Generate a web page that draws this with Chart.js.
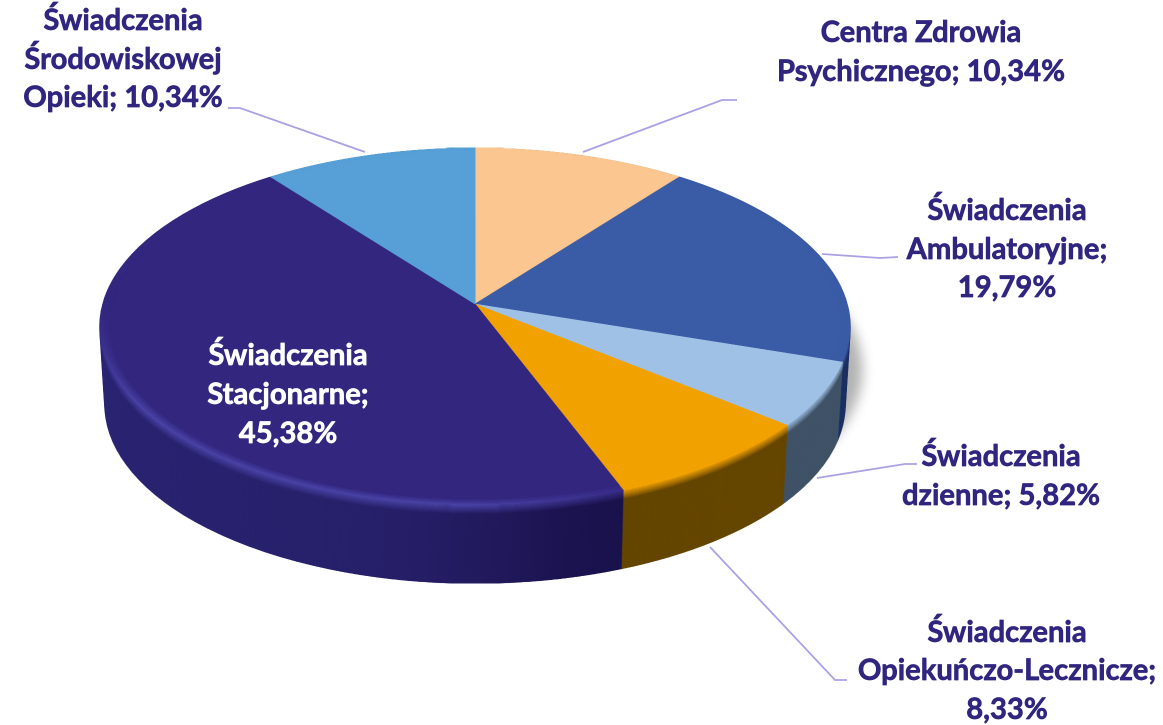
<!DOCTYPE html>
<html lang="pl">
<head>
<meta charset="utf-8">
<style>html,body{margin:0;padding:0;background:#fff}canvas{display:block}</style>
<script src="https://cdn.jsdelivr.net/npm/chart.js@4/dist/chart.umd.min.js"></script>
</head>
<body>
<canvas id="c" width="1163" height="725" style="width:1163px;height:725px"></canvas>
<script>
const categories = ["Centra Zdrowia Psychicznego","Świadczenia Ambulatoryjne","Świadczenia dzienne","Świadczenia Opiekuńczo-Lecznicze","Świadczenia Stacjonarne","Świadczenia Środowiskowej Opieki"];
const values = [10.34,19.79,5.82,8.33,45.38,10.34];
const topColors = ["#FBC690","#3A5BA5","#9FC1E6","#F2A200","#32267F","#569FD7"];
const wallColors = ["#7d6348","#1B2F62","#3F5266","#654600",null,"#2b5070"];
const purpleRim = "#4A43A6";
const purpleWallStops = [[0,"#2A2372"],[0.42,"#261F68"],[0.62,"#1B134F"],[1,"#120A38"]];
const labelLines = [
  ["Centra Zdrowia","Psychicznego; 10,34%"],
  ["Świadczenia","Ambulatoryjne;","19,79%"],
  ["Świadczenia","dzienne; 5,82%"],
  ["Świadczenia","Opiekuńczo-Lecznicze;","8,33%"],
  ["Świadczenia","Stacjonarne;","45,38%"],
  ["Świadczenia","Środowiskowej","Opieki; 10,34%"]
];
const labelCentersX = [921,1007,1001,1007,288,123];
const labelBaselines = [[42,81],[220,259,297],[466,505],[642,680,719],[365,404,443],[30,69,107]];
const labelColors = ["#30267F","#30267F","#30267F","#30267F","#FFFFFF","#30267F"];
const leaders = [
  [[737,100],[722,100],[583,152]],
  [[898,257],[880,258],[822,254]],
  [[917,464],[905,464],[817,478]],
  [[847,680],[835,680],[710,547]],
  [],
  [[228,108],[240,108],[365,152]]
];
const DPR = 2;
const topPlane = {A:372,a:175.7,k:0.126,cx:475,cy:304};
const bottomPlane = {A:367,a:176,k:0.126,cx:475,cy:382};

const warp = (dst, src, p, fcx, fcy, R, f) => {
  const W = src.width, H = src.height;
  const y0 = Math.floor((p.cy - p.a*f/(1+p.k*f))*DPR)-1;
  const y1 = Math.ceil((p.cy + p.a*f/(1-p.k*f))*DPR)+1;
  for (let Yd=y0; Yd<y1; Yd++) {
    const y = (Yd/DPR)-p.cy, y2 = ((Yd+1)/DPR)-p.cy;
    const v = y/(p.a+p.k*y), v2 = y2/(p.a+p.k*y2);
    if (v2/f < -1.002 || v/f > 1.002) continue;
    const sy = (fcy + (v/f)*R)*DPR, sy2 = (fcy + (v2/f)*R)*DPR;
    const vm = (v+v2)/2;
    const s = 1/(1-p.k*vm);
    const sx = p.A*s*f/R;
    const dw = W*sx;
    const dx = p.cx*DPR - fcx*DPR*sx;
    const top = Math.max(0,sy), h = Math.min(H-top, Math.max(0.5,sy2-sy));
    if (h<=0) continue;
    dst.drawImage(src,0,top,W,h,dx,Yd,dw,1);
  }
};

const pie3d = {
  id:'pie3d',
  afterDatasetsDraw(chart){
    const ctx = chart.ctx, canvas = chart.canvas;
    const arcs = chart.getDatasetMeta(0).data;
    const fcx = arcs[0].x, fcy = arcs[0].y, R = arcs[0].outerRadius;
    const flat = (colorFor) => {
      const o = document.createElement('canvas');
      o.width = canvas.width; o.height = canvas.height;
      const g = o.getContext('2d');
      g.scale(DPR,DPR);
      arcs.forEach((arc,i)=>{
        const c = colorFor(i,g);
        const saved = arc.options;
        const opts = Object.create(saved);
        opts.backgroundColor = c; opts.borderColor = c; opts.borderWidth = 1;
        arc.options = opts;
        arc.draw(g);
        arc.options = saved;
      });
      return o;
    };
    const topFlat = flat(i=>topColors[i]);
    // rim highlight exists only on the lower-left of the big slice
    const rimFlat = flat((i,g)=>{
      if (wallColors[i]) return topColors[i];
      const dx=-0.507, dy=0.862;
      const gr = g.createLinearGradient(fcx+dx*0.55*R,fcy+dy*0.55*R,fcx+dx*0.9*R,fcy+dy*0.9*R);
      gr.addColorStop(0,topColors[i]); gr.addColorStop(1,purpleRim);
      return gr;
    });
    const wallFlat = flat((i,g)=>{
      if (wallColors[i]) return wallColors[i];
      const gr = g.createLinearGradient(fcx-R,0,fcx+R,0);
      purpleWallStops.forEach(s=>gr.addColorStop(s[0],s[1]));
      return gr;
    });
    const lerp = (t)=>({
      A:topPlane.A+(bottomPlane.A-topPlane.A)*t,
      a:topPlane.a+(bottomPlane.a-topPlane.a)*t,
      k:topPlane.k, cx:topPlane.cx,
      cy:topPlane.cy+(bottomPlane.cy-topPlane.cy)*t
    });
    ctx.save();
    ctx.setTransform(1,0,0,1,0,0);
    ctx.clearRect(0,0,canvas.width,canvas.height);
    ctx.imageSmoothingEnabled = true;
    ctx.imageSmoothingQuality = 'high';
    // soft shadow behind the right-hand wall
    const sh = document.createElement('canvas');
    sh.width = canvas.width; sh.height = canvas.height;
    warp(sh.getContext('2d'),wallFlat,bottomPlane,fcx,fcy,R,1);
    ctx.save();
    ctx.shadowColor='rgba(0,0,0,0.3)';
    ctx.shadowBlur=24; ctx.shadowOffsetX=34; ctx.shadowOffsetY=-70;
    ctx.drawImage(sh,0,0);
    ctx.restore();
    // wall
    const depth = bottomPlane.cy-topPlane.cy;
    const bevel = 9;
    for (let d=depth; d>=0; d-=1){
      const p = lerp(d/depth);
      warp(ctx,wallFlat,p,fcx,fcy,R,1);
      if (d<bevel){
        ctx.globalAlpha = 1-d/bevel;
        warp(ctx,rimFlat,p,fcx,fcy,R,1);
        ctx.globalAlpha = 1;
      }
    }
    // top face, fading from rim colour into the face colour
    const steps = [0.995,0.99,0.985,0.98,0.975];
    steps.forEach((f,i)=>{
      warp(ctx,rimFlat,topPlane,fcx,fcy,R,f);
      ctx.globalAlpha = (i+1)/steps.length;
      warp(ctx,topFlat,topPlane,fcx,fcy,R,f);
      ctx.globalAlpha = 1;
    });
    ctx.restore();
  },
  afterDraw(chart){
    const ctx = chart.ctx;
    ctx.save();
    ctx.strokeStyle = '#A9A1E4';
    ctx.lineWidth = 1.8;
    leaders.forEach(pts=>{
      if(!pts.length) return;
      ctx.beginPath();
      pts.forEach((p,i)=> i? ctx.lineTo(p[0],p[1]) : ctx.moveTo(p[0],p[1]));
      ctx.stroke();
    });
    ctx.font = 'bold 29.2px Lato, "Open Sans", sans-serif';
    ctx.textAlign = 'center';
    ctx.textBaseline = 'alphabetic';
    ctx.lineJoin = 'round';
    ctx.lineWidth = 0.7;
    labelLines.forEach((lines,i)=>{
      ctx.fillStyle = labelColors[i];
      ctx.strokeStyle = labelColors[i];
      lines.forEach((t,j)=>{
        ctx.fillText(t,labelCentersX[i],labelBaselines[i][j]);
        ctx.strokeText(t,labelCentersX[i],labelBaselines[i][j]);
      });
    });
    ctx.restore();
  }
};

new Chart(document.getElementById('c'),{
  type:'pie',
  data:{labels:categories,datasets:[{data:values,backgroundColor:topColors,borderWidth:0}]},
  options:{
    responsive:false,
    devicePixelRatio:DPR,
    animation:false,
    rotation:0,
    layout:{padding:0},
    plugins:{legend:{display:false},tooltip:{enabled:false},title:{display:false}}
  },
  plugins:[pie3d]
});
</script>
</body>
</html>
